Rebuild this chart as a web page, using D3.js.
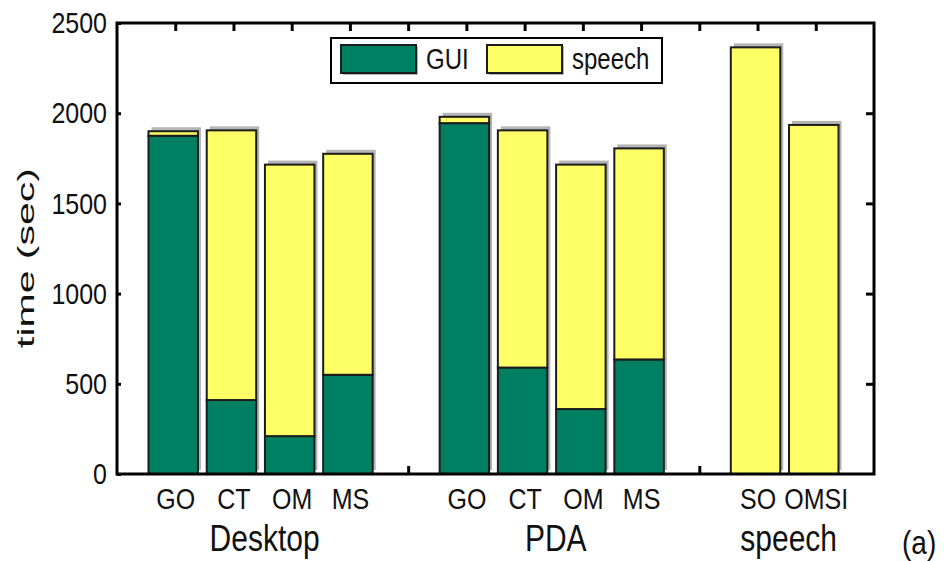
<!DOCTYPE html>
<html lang="en">
<head>
<meta charset="utf-8">
<title>time per task</title>
<script src="https://d3js.org/d3.v7.min.js"></script>
<style>
  body { margin: 0; background: #fff; }
  text { font-family: "Liberation Sans", Arial, sans-serif; fill: #111; }
</style>
</head>
<body>
<div id="chart"></div>
<script>
// data
var groups = ["Desktop", "PDA", "speech"];
var categories = ["GO", "CT", "OM", "MS", "GO", "CT", "OM", "MS", "SO", "OMSI"];
var categoryGroup = [0, 0, 0, 0, 1, 1, 1, 1, 2, 2];
var guiTime = [1875, 410, 210, 550, 1945, 590, 360, 635, 0, 0];
var speechTime = [25, 1495, 1505, 1225, 35, 1315, 1355, 1170, 2365, 1935];
var seriesNames = ["GUI", "speech"];
var yTicks = [0, 500, 1000, 1500, 2000, 2500];

var w = 944, h = 561;
var colors = {GUI: "#007f62", speech: "#ffff66"};
var stretch = "scale(1,1.2)";

var svg = d3.select("#chart").append("svg")
    .attr("width", w)
    .attr("height", h);

// slot on the x axis: one empty slot between groups
var rows = categories.map(function(c, i) {
  return {name: c, group: categoryGroup[i], slot: i + categoryGroup[i] + 1,
          GUI: guiTime[i], speech: speechTime[i]};
});

var x = d3.scaleLinear().domain([0, 13]).range([117, 874]);
var y = d3.scaleLinear().domain([0, 2500]).range([474, 23]);
var barW = x(0.85) - x(0);

// inward ticks
svg.append("g")
    .attr("transform", "translate(0,474)")
    .call(d3.axisBottom(x).tickValues(d3.range(1, 13)).tickSize(-8).tickFormat(""))
    .call(function(g) { g.select(".domain").remove(); });
svg.append("g")
    .attr("transform", "translate(0,23)")
    .call(d3.axisTop(x).tickValues(d3.range(1, 13)).tickSize(-8).tickFormat(""))
    .call(function(g) { g.select(".domain").remove(); });
svg.append("g")
    .attr("transform", "translate(874,0)")
    .call(d3.axisRight(y).tickValues(yTicks.slice(1, -1)).tickSize(-8).tickFormat(""))
    .call(function(g) { g.select(".domain").remove(); });
svg.selectAll(".tick line").attr("stroke", "#000").attr("stroke-width", 3);

// left axis with labels
var yAxis = svg.append("g")
    .attr("transform", "translate(117,0)")
    .call(d3.axisLeft(y).tickValues(yTicks).tickFormat(d3.format("d"))
        .tickSizeInner(-4).tickSizeOuter(0).tickPadding(10));
yAxis.attr("font-family", null);
yAxis.select(".domain").remove();
yAxis.selectAll(".tick line").attr("stroke", "#000").attr("stroke-width", 3);
yAxis.selectAll("text")
    .attr("font-size", 25)
    .attr("fill", "#111")
    .attr("transform", stretch);

// stacked bars
var stack = d3.stack().keys(seriesNames);
var layers = stack(rows);

// drop shadows
svg.append("g").selectAll("rect")
    .data(rows)
    .enter().append("rect")
    .attr("x", function(d) { return x(d.slot) - barW / 2 + 1; })
    .attr("y", function(d) { return y(d.GUI + d.speech) - 4; })
    .attr("width", barW)
    .attr("height", function(d) { return y(0) - y(d.GUI + d.speech); })
    .attr("fill", "#b5b5b5");

svg.append("g").selectAll("g")
    .data(layers)
    .enter().append("g")
    .attr("fill", function(d) { return colors[d.key]; })
    .selectAll("rect")
    .data(function(d) { return d.filter(function(s) { return s[1] > s[0]; }); })
    .enter().append("rect")
    .attr("x", function(d) { return x(d.data.slot) - barW / 2 - 2; })
    .attr("y", function(d) { return y(d[1]); })
    .attr("width", barW)
    .attr("height", function(d) { return y(d[0]) - y(d[1]); })
    .attr("stroke", "#1c1c1c")
    .attr("stroke-width", 2);

// frame
svg.append("rect")
    .attr("x", 117).attr("y", 23)
    .attr("width", 874 - 117).attr("height", 474 - 23)
    .attr("fill", "none")
    .attr("stroke", "#000")
    .attr("stroke-width", 3);

// category labels
var catAxis = svg.append("g")
    .attr("transform", "translate(0,474)")
    .call(d3.axisBottom(x)
        .tickValues(rows.map(function(d) { return d.slot; }))
        .tickSize(0).tickPadding(0)
        .tickFormat(function(d, i) { return categories[i]; }));
catAxis.attr("font-family", null);
catAxis.select(".domain").remove();
catAxis.selectAll("text")
    .attr("font-size", 25)
    .attr("fill", "#111")
    .attr("dy", null)
    .attr("y", 29)
    .attr("transform", stretch);

// group labels
groups.forEach(function(gname, gi) {
  var slots = rows.filter(function(d) { return d.group === gi; }).map(function(d) { return d.slot; });
  svg.append("text")
      .attr("transform", "translate(" + (x(d3.mean(slots)) + 2) + ",551) " + stretch)
      .attr("text-anchor", "middle")
      .attr("font-size", 30)
      .text(gname);
});

// y title
svg.append("text")
    .attr("transform", "translate(34,258) rotate(-90)")
    .attr("text-anchor", "middle")
    .attr("font-size", 24)
    .attr("textLength", 180)
    .attr("lengthAdjust", "spacingAndGlyphs")
    .text("time (sec)");

// legend
var legend = svg.append("g");
legend.append("rect")
    .attr("x", 331).attr("y", 38)
    .attr("width", 331).attr("height", 45)
    .attr("fill", "#fff")
    .attr("stroke", "#000")
    .attr("stroke-width", 2);
var legendX = [341, 487];
seriesNames.forEach(function(s, i) {
  legend.append("rect")
      .attr("x", legendX[i] + 2).attr("y", 46)
      .attr("width", 75).attr("height", 29)
      .attr("fill", "#b5b5b5");
  legend.append("rect")
      .attr("x", legendX[i]).attr("y", 45)
      .attr("width", 75).attr("height", 28)
      .attr("fill", colors[s])
      .attr("stroke", "#1c1c1c")
      .attr("stroke-width", 2);
  legend.append("text")
      .attr("transform", "translate(" + (legendX[i] + 85) + ",69) " + stretch)
      .attr("font-size", 24)
      .text(s);
});

// panel tag
svg.append("text")
    .attr("transform", "translate(902,554) " + stretch)
    .attr("font-family", "Liberation Serif, Times New Roman, serif")
    .attr("font-size", 28)
    .text("(a)");
</script>
</body>
</html>
